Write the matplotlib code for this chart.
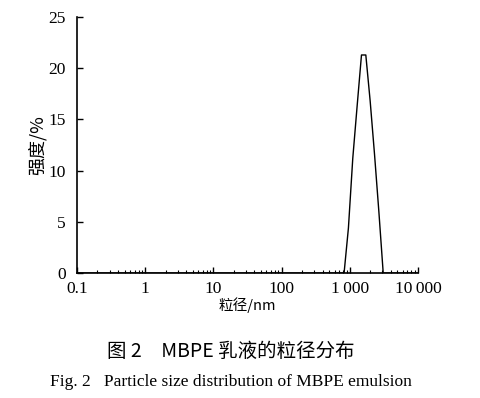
import matplotlib
matplotlib.use("Agg")
import matplotlib.pyplot as plt
import matplotlib.ticker as mticker
import numpy as np

# Data
size_nm = [0.1, 712, 825, 955, 1106, 1281, 1484, 1718, 1990, 2305, 2669, 3091, 3580, 10000]
intensity = [0, 0, 0, 4.4, 11.2, 16.3, 21.3, 21.3, 16.8, 11.6, 6.0, 0, 0, 0]
xticks = [0.1, 1, 10, 100, 1000, 10000]
xticklabels = ["0.1", "1", "10", "100", "1\u2009000", "10\u2009000"]
yticks = [0, 5, 10, 15, 20, 25]

serif = ["Liberation Serif", "DejaVu Serif"]
cjk = ["Noto Sans CJK SC", "DejaVu Sans"]

fig = plt.figure(figsize=(4.81, 3.98), dpi=100)
ax = fig.add_axes([0.16, 0.314, 0.709, 0.643])

ax.plot(size_nm, intensity, color="black", lw=1.0)
ax.set_xscale("log")
ax.set_xlim(0.1, 10000)
ax.set_ylim(0, 25)
ax.set_xticks(xticks)
ax.set_xticklabels(xticklabels)
ax.xaxis.set_minor_locator(mticker.LogLocator(base=10, subs=np.arange(2, 10)))
ax.xaxis.set_minor_formatter(mticker.NullFormatter())
ax.set_yticks(yticks)

for s in ["top", "right"]:
    ax.spines[s].set_visible(False)
for s in ["left", "bottom"]:
    ax.spines[s].set_linewidth(1.2)

ax.tick_params(axis="both", which="major", direction="in", length=4, width=1.0,
               labelsize=12.5)
ax.tick_params(axis="x", which="major", pad=6)
ax.tick_params(axis="y", which="major", pad=8)
ax.tick_params(axis="x", which="minor", direction="in", length=2, width=0.8)
for lab in ax.get_xticklabels() + ax.get_yticklabels():
    lab.set_family(serif)

ax.set_xlabel("粒径/nm", family=cjk, fontsize=10.5, labelpad=0)
ax.set_ylabel("强度/%", family=cjk, fontsize=13, labelpad=1)

fig.text(0.48, 0.116, "图 2　MBPE 乳液的粒径分布", family=cjk, fontsize=14,
         ha="center", va="center")
fig.text(0.481, 0.04, "Fig. 2   Particle size distribution of MBPE emulsion",
         family=serif, fontsize=12.5, ha="center", va="center")

fig.savefig("out.png", dpi=100)
